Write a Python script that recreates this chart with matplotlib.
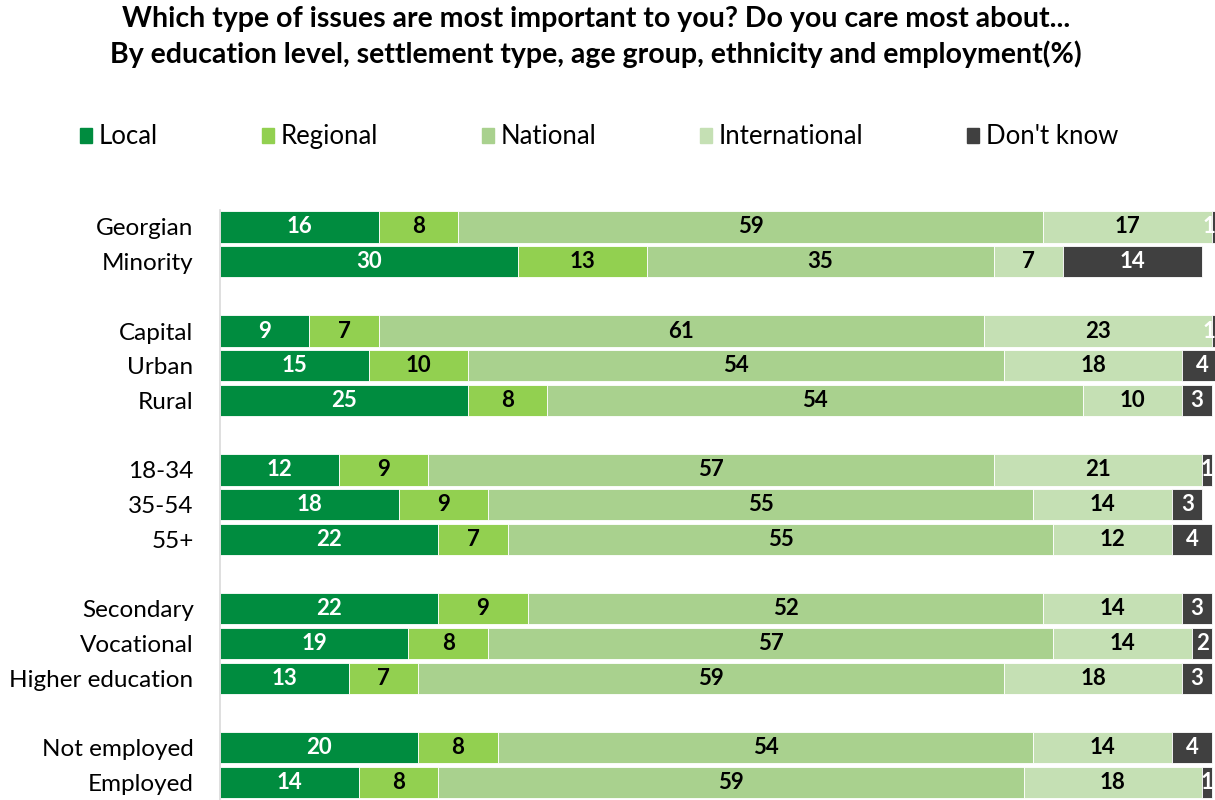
import matplotlib
matplotlib.use("Agg")
import matplotlib.pyplot as plt
from matplotlib.patches import Rectangle

plt.rcParams['font.family'] = ['Lato', 'DejaVu Sans']

groups = ["Georgian", "Minority", None,
          "Capital", "Urban", "Rural", None,
          "18-34", "35-54", "55+", None,
          "Secondary", "Vocational", "Higher education", None,
          "Not employed", "Employed"]

series = ["Local", "Regional", "National", "International", "Don't know"]

local         = [16, 30, 9, 15, 25, 12, 18, 22, 22, 19, 13, 20, 14]
regional      = [8, 13, 7, 10, 8, 9, 9, 7, 9, 8, 7, 8, 8]
national      = [59, 35, 61, 54, 54, 57, 55, 55, 52, 57, 59, 54, 59]
international = [17, 7, 23, 18, 10, 21, 14, 12, 14, 14, 18, 14, 18]
dont_know     = [1, 14, 1, 4, 3, 1, 3, 4, 3, 2, 3, 4, 1]

colors = ["#008C3F", "#92D050", "#A9D18E", "#C5E0B4", "#404040"]
text_colors = ["white", "black", "black", "black", "white"]

values = [local, regional, national, international, dont_know]

XMAX = 100.3

fig = plt.figure(figsize=(12.15, 8.0), dpi=100)
ax = fig.add_axes([220 / 1215, 0.0, 995 / 1215, 1 - 209.6 / 800])

positions = [i for i, g in enumerate(groups) if g is not None]
labels = [g for g in groups if g is not None]

left = [0] * len(positions)
for name, vals, col, tcol in zip(series, values, colors, text_colors):
    ax.barh(positions, vals, left=left, height=0.9, color=col, label=name,
            edgecolor="white", linewidth=0.6)
    for y, v, l in zip(positions, vals, left):
        # keep labels of segments that run past the edge inside the plot
        x = min(l + v / 2, XMAX - 0.6)
        ax.text(x, y, str(v), ha="center", va="center",
                color=tcol, fontsize=16, fontweight="bold")
    left = [a + b for a, b in zip(left, vals)]

ax.set_xlim(0, XMAX)
ax.set_ylim(16.51, -0.5)
ax.set_yticks(positions)
ax.set_yticklabels(labels, fontsize=17.5)
ax.tick_params(axis="y", length=0, pad=19)
ax.set_xticks([])
for side in ["top", "right", "bottom"]:
    ax.spines[side].set_visible(False)
ax.spines["left"].set_color("#D9D9D9")
ax.spines["left"].set_linewidth(1.2)

fig.text(596 / 1215, 1 - 19 / 800, "Which type of issues are most important to you? Do you care most about...",
         ha="center", va="center", fontsize=20.5, fontweight="bold")
fig.text(596 / 1215, 1 - 54 / 800, "By education level, settlement type, age group, ethnicity and employment(%)",
         ha="center", va="center", fontsize=20.5, fontweight="bold")

legend_x = [80, 262, 482, 700, 967]
for x, h_col, name in zip(legend_x, colors, series):
    fig.patches.append(Rectangle((x / 1215, 1 - 143 / 800), 12 / 1215, 15 / 800,
                                 transform=fig.transFigure, color=h_col))
    fig.text((x + 19) / 1215, 1 - 136.5 / 800, name, ha="left", va="center", fontsize=18.5)

fig.savefig("out.png", dpi=100)
